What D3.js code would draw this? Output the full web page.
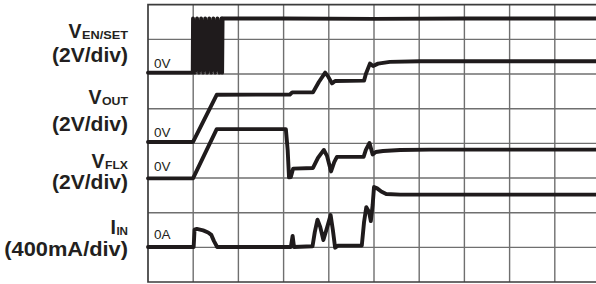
<!DOCTYPE html>
<html>
<head>
<meta charset="utf-8">
<script src="https://cdn.jsdelivr.net/npm/d3@7"></script>
<style>
  html, body { margin: 0; padding: 0; background: #fff; }
  svg { display: block; }
  text { font-family: "Liberation Sans", Arial, Helvetica, sans-serif; fill: #231f20; }
</style>
</head>
<body>
<svg id="chart" width="596" height="284"></svg>
<script>
// ---- data (time in divisions, level in divisions from bottom of screen) ----
const gridCols = d3.range(0, 11);
const gridRows = d3.range(0, 9);

const traceNames = ["VEN", "VOUT", "VFLX", "IIN"];
const mainLabels = ["V", "V", "V", "I"];
const subLabels = ["EN/SET", "OUT", "FLX", "IN"];
const scaleLabels = ["(2V/div)", "(2V/div)", "(2V/div)", "(400mA/div)"];
const zeroLabels = ["0V", "0V", "0V", "0A"];

const venT = [0, 0.99, 0.996, 1.04, 1.085, 1.13, 1.175, 1.22, 1.265, 1.31, 1.355, 1.40, 1.445, 1.49, 1.535, 1.58, 1.625, 1.640, 1.650, 3.0, 5.0, 7.0, 10];
const venV = [6.04, 6.04, 7.60, 6.04, 7.60, 6.04, 7.60, 6.04, 7.60, 6.04, 7.60, 6.04, 7.60, 6.04, 7.60, 6.04, 7.60, 6.04, 7.60, 7.60, 7.59, 7.60, 7.60];

const voutT = [0, 0.996, 1.52, 3.14, 3.19, 3.65, 3.78, 3.92, 3.98, 4.07, 4.14, 4.78, 4.82, 4.91, 4.98, 5.09, 5.35, 6.02, 10];
const voutV = [4.04, 4.04, 5.40, 5.41, 5.47, 5.47, 5.77, 6.04, 5.94, 5.73, 5.80, 5.81, 6.00, 6.30, 6.23, 6.30, 6.35, 6.37, 6.37];

const vflxT = [0, 0.996, 1.52, 3.05, 3.09, 3.12, 3.16, 3.21, 3.65, 3.76, 3.89, 3.96, 4.05, 4.12, 4.18, 4.77, 4.82, 4.90, 4.97, 5.04, 5.20, 5.58, 6.24, 10];
const vflxV = [2.99, 2.99, 4.41, 4.41, 3.81, 3.02, 3.03, 3.27, 3.29, 3.58, 3.81, 3.64, 3.19, 3.46, 3.61, 3.61, 3.81, 4.01, 3.68, 3.75, 3.78, 3.81, 3.82, 3.82];

const iinT = [0, 1.01, 1.03, 1.08, 1.22, 1.33, 1.40, 1.46, 1.53, 3.16, 3.20, 3.23, 3.64, 3.69, 3.75, 3.81, 3.88, 3.96, 4.04, 4.09, 4.14, 4.20, 4.73, 4.78, 4.83, 4.89, 4.93, 4.97, 5.00, 5.07, 5.16, 5.27, 5.58, 10];
const iinV = [1.01, 1.01, 1.51, 1.53, 1.49, 1.43, 1.36, 1.18, 1.01, 1.01, 1.33, 1.01, 1.03, 1.44, 1.80, 1.59, 1.21, 1.56, 1.93, 1.50, 0.99, 1.05, 1.05, 1.73, 2.16, 2.02, 1.76, 2.22, 2.74, 2.70, 2.61, 2.54, 2.52, 2.52];

// ---- layout ----
const svg = d3.select("#chart");
const x = d3.scaleLinear().domain([0, 10]).range([148, 600]);
const y = d3.scaleLinear().domain([0, 8]).range([282, 4.7]);

// grid
const g = svg.append("g");
g.selectAll("line.v").data(gridCols.slice(1)).join("line")
  .attr("x1", d => x(d)).attr("x2", d => x(d))
  .attr("y1", y(8)).attr("y2", y(0))
  .attr("stroke", "#6f6f6f").attr("stroke-width", 1.4);
g.selectAll("line.h").data(gridRows.slice(1, 8)).join("line")
  .attr("x1", x(0)).attr("x2", x(10))
  .attr("y1", d => y(d)).attr("y2", d => y(d))
  .attr("stroke", "#6f6f6f").attr("stroke-width", 1.4);
// border
g.append("path")
  .attr("d", `M${x(10)},${y(8)}H${x(0)}V${y(0)}H${x(10)}`)
  .attr("fill", "none").attr("stroke", "#3c3c3c").attr("stroke-width", 1.7);

// traces
const series = [[venT, venV], [voutT, voutV], [vflxT, vflxV], [iinT, iinV]];
const line = d3.line().x(d => x(d[0])).y(d => y(d[1])).curve(d3.curveLinear);
svg.append("g").selectAll("path").data(series).join("path")
  .attr("d", s => line(s[0].map((t, i) => [t, s[1][i]])))
  .attr("fill", "none").attr("stroke", "#1f1b1c")
  .attr("stroke-width", 3.9).attr("stroke-linejoin", "round").attr("stroke-linecap", "round");

// labels
const labelRight = 128;
const mainBase = [37.5, 103.5, 168, 233.5];
const divBase = [61.5, 131, 188.5, 255.5];
const subWidth = [46, 26, 23, 11.6];
const divWidth = [76, 76, 76, 123.7];
const lab = svg.append("g");
traceNames.forEach((n, i) => {
  lab.append("text").attr("x", labelRight).attr("y", mainBase[i] + 1.3)
    .attr("text-anchor", "end").attr("font-weight", "bold").attr("font-size", 11.2)
    .attr("textLength", subWidth[i]).attr("lengthAdjust", "spacingAndGlyphs")
    .text(subLabels[i]);
  lab.append("text").attr("x", labelRight - subWidth[i] - 0.5).attr("y", mainBase[i])
    .attr("text-anchor", "end").attr("font-weight", "bold").attr("font-size", 19.5)
    .text(mainLabels[i]);
  lab.append("text").attr("x", labelRight).attr("y", divBase[i])
    .attr("text-anchor", "end").attr("font-weight", "bold").attr("font-size", 20)
    .attr("textLength", divWidth[i]).attr("lengthAdjust", "spacingAndGlyphs")
    .text(scaleLabels[i]);
});

const zeroBase = [68.3, 136.5, 171.3, 238.5];
svg.append("g").selectAll("text").data(zeroLabels).join("text")
  .attr("x", 154).attr("y", (d, i) => zeroBase[i])
  .attr("font-size", 13.5).text(d => d);
</script>
</body>
</html>
